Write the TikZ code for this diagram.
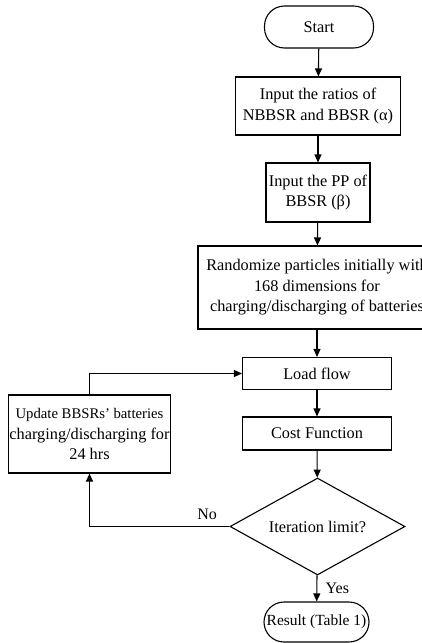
\documentclass[tikz,border=0pt]{standalone}
\usepackage{fontspec}
\setmainfont{Liberation Serif}
\usetikzlibrary{positioning, shapes.geometric, arrows.meta}
\tikzset{
  every node/.style={font=\fontsize{16.3}{20.5}\selectfont},
  % flowchart shapes
  box/.style={draw, line width=1.1pt, align=center, inner sep=1pt},
  term/.style={box, rounded corners=20pt},
  dec/.style={box, diamond, aspect=1.8, inner sep=0pt},
  arr/.style={-{Triangle[length=8pt,width=7pt]}, line width=1.1pt},
  lbl/.style={font=\fontsize{16}{18}\selectfont},
}
\begin{document}
\begin{tikzpicture}[x=1pt, y=-1pt]
\useasboundingbox (0,0) rectangle (422,643);
\clip (0,0) rectangle (422,643);
\node[term, minimum width=109pt, minimum height=42pt] (start) at (319,27) {Start};
\node[box, minimum width=165pt, minimum height=58pt] (ratio) at (318,106)
  {Input the ratios of\\NBBSR and BBSR (α)};
\node[box, minimum width=104pt, minimum height=59pt] (pp) at (318,192.5)
  {Input the PP of\\BBSR (β)};
\node[box, minimum width=238pt, minimum height=83pt] (rand) at (317,287.5)
  {Randomize particles initially with\\168 dimensions for\\charging/discharging of batteries};
\node[box, minimum width=149pt, minimum height=32pt] (load) at (317,373.5) {Load flow};
\node[box, minimum width=149pt, minimum height=33pt] (cost) at (317,433.5) {Cost Function};
\node[dec, minimum width=175pt, minimum height=97pt] (iter) at (317.5,526.5) {Iteration limit?};
\node[term, minimum width=105pt, minimum height=40pt, inner sep=0pt] (res) at (316.5,622)
  {\fontsize{15.5}{18}\selectfont Result (Table 1)};
\node[box, minimum width=155pt, minimum height=78pt] (upd) at (89.5,434)
  {\fontsize{14.7}{20}\selectfont Update BBSRs’ batteries\\charging/discharging for\\24 hrs};

\draw[arr] (start) -- (ratio);
\draw[arr] (ratio) -- (pp);
\draw[arr] (pp) -- (rand);
\draw[arr] (rand) -- (load);
\draw[arr] (load) -- (cost);
\draw[arr] (cost) -- (iter);
\draw[arr] (iter) -- node[lbl, right=5pt]{Yes} (res);
\draw[arr] (iter.west) -| node[lbl, pos=0.08, above=3pt]{No} (upd.south);
\draw[arr] (upd.north) |- (load.west);
\end{tikzpicture}
\end{document}
